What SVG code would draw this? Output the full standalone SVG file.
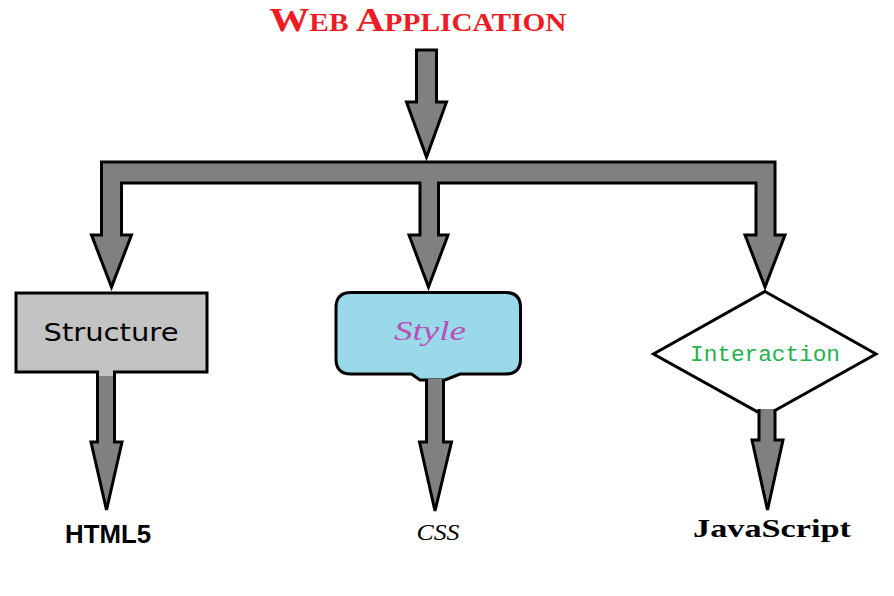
<svg xmlns="http://www.w3.org/2000/svg" width="894" height="596" viewBox="0 0 894 596">
<defs>
<style>
.arr{fill:#808080;stroke:#000;stroke-width:3;stroke-linejoin:miter}
.node{stroke:#000;stroke-width:3}
.lbl{text-anchor:middle}
</style>
</defs>
<rect width="894" height="596" fill="#fff"/>
<g id="title">
<text x="418" y="31" class="lbl" font-family="'Liberation Serif', serif" font-weight="bold" fill="#ed1c24" textLength="297" lengthAdjust="spacingAndGlyphs"><tspan font-size="34">W</tspan><tspan font-size="25">EB </tspan><tspan font-size="34">A</tspan><tspan font-size="25">PPLICATION</tspan></text>
</g>
<g id="connectors">
<path class="arr" d="M416.5,50 H436.5 V102 H446.5 L426.5,157 L406.5,102 H416.5 Z"/>
<path class="arr" d="M101.5,162 H775 V235 H785 L765,287 L745,235 H756 V183 H438.5 V235 H448 L428.5,287 L409,235 H420 V183 H121.5 V235 H131.5 L111.5,287 L91.5,235 H101.5 Z"/>
</g>
<g id="structure">
<rect class="node" x="16" y="293" width="191" height="79" fill="#c3c3c3"/>
<text x="111" y="341" class="lbl" font-family="'DejaVu Sans', sans-serif" font-size="24" fill="#000" textLength="135" lengthAdjust="spacingAndGlyphs">Structure</text>
</g>
<g id="style">
<path class="node" fill="#99d9ea" d="M351,292.5 H505.5 Q520.5,292.5 520.5,307.5 V359 Q520.5,374 505.5,374 H460 L445,380 H420 L411.5,374 H351 Q336,374 336,359 V307.5 Q336,292.5 351,292.5 Z"/>
<text x="430" y="340" class="lbl" font-family="'Liberation Serif', serif" font-style="italic" font-size="28" fill="#b94fb6" textLength="72" lengthAdjust="spacingAndGlyphs">Style</text>
</g>
<g id="interaction">
<polygon class="node" fill="#fff" points="765,291.5 876,354 765,416 653.5,354"/>
<text x="765" y="361" class="lbl" font-family="'Liberation Mono', monospace" font-size="22" fill="#22b14c" textLength="150" lengthAdjust="spacingAndGlyphs">Interaction</text>
</g>
<g id="connectors-out">
<path class="arr" d="M97.5,371 V442 H91 L106.5,510 L122,442 H114.5 V371"/>
<rect x="99" y="370" width="14" height="6" fill="#c3c3c3"/>
<path class="arr" d="M426.5,379 V442 H419.5 L435,511 L451.5,442 H443.5 V379"/>
<path class="arr" d="M759,409 V440 H752 L767.5,510 L783,440 H775 V409"/>
</g>
<g id="html5">
<text x="108" y="543" class="lbl" font-family="'Liberation Sans', sans-serif" font-weight="bold" font-size="26" fill="#000" textLength="86" lengthAdjust="spacingAndGlyphs">HTML5</text>
</g>
<g id="css">
<text x="438" y="540" class="lbl" font-family="'Liberation Serif', serif" font-style="italic" font-size="24" fill="#000" textLength="43" lengthAdjust="spacingAndGlyphs">CSS</text>
</g>
<g id="javascript">
<text x="772" y="537" class="lbl" font-family="'Liberation Serif', serif" font-weight="bold" font-size="26" fill="#000" textLength="158" lengthAdjust="spacingAndGlyphs">JavaScript</text>
</g>
</svg>
